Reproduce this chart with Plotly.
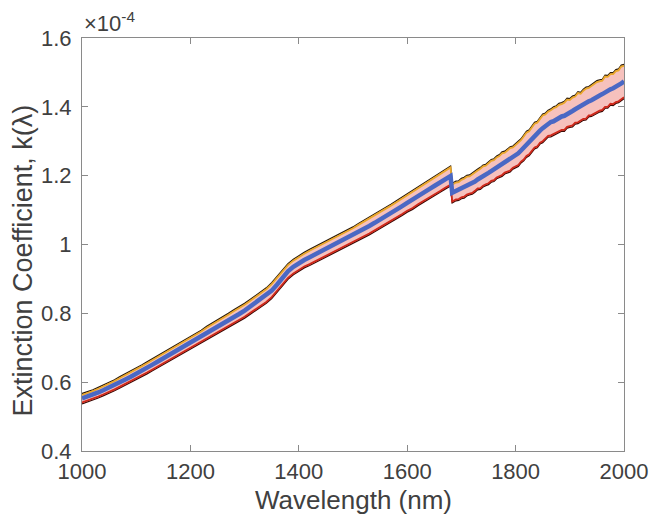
import plotly.graph_objects as go

# Wavelength grid (nm)
wl_a = [1000, 1010, 1020, 1030, 1040, 1050, 1060, 1070, 1080, 1090,
        1100, 1110, 1120, 1130, 1140, 1150, 1160, 1170, 1180, 1190,
        1200, 1210, 1220, 1230, 1240, 1250, 1260, 1270, 1280, 1290,
        1300, 1310, 1320, 1330, 1340, 1350, 1360, 1370, 1380, 1390,
        1400, 1410, 1420, 1430, 1440, 1450, 1460, 1470, 1480, 1490,
        1500, 1510, 1520, 1530, 1540, 1550, 1560, 1570, 1580, 1590,
        1600, 1610, 1620, 1630, 1640, 1650, 1660, 1670, 1680]
wl_b = [1683, 1690, 1695, 1700, 1705, 1710, 1715, 1720, 1725, 1730,
        1735, 1740, 1745, 1750, 1755, 1760, 1765, 1770, 1775, 1780,
        1785, 1790, 1795, 1800, 1805, 1810, 1815, 1820, 1825, 1830,
        1835, 1840, 1845, 1850, 1855, 1860, 1865, 1870, 1875, 1880,
        1885, 1890, 1895, 1900, 1905, 1910, 1915, 1920, 1925, 1930,
        1935, 1940, 1945, 1950, 1955, 1960, 1965, 1970, 1975, 1980,
        1985, 1990, 1995, 2000]

# Mean extinction coefficient (x 1e-4)
k_mean_a = [0.553, 0.558, 0.564, 0.570, 0.577, 0.584, 0.592, 0.600, 0.608, 0.616,
            0.624, 0.633, 0.642, 0.651, 0.660, 0.669, 0.678, 0.687, 0.696, 0.705,
            0.714, 0.723, 0.732, 0.742, 0.751, 0.760, 0.770, 0.779, 0.789, 0.798,
            0.808, 0.819, 0.830, 0.841, 0.852, 0.866, 0.884, 0.905, 0.922, 0.935,
            0.946, 0.955, 0.963, 0.971, 0.979, 0.987, 0.995, 1.003, 1.011, 1.019,
            1.027, 1.036, 1.045, 1.054, 1.063, 1.072, 1.082, 1.091, 1.101, 1.111,
            1.121, 1.130, 1.140, 1.150, 1.160, 1.170, 1.180, 1.189, 1.199]
k_mean_b = [1.150, 1.155, 1.158, 1.162, 1.166, 1.170, 1.174, 1.178, 1.183, 1.189,
            1.193, 1.198, 1.203, 1.208, 1.213, 1.218, 1.224, 1.229, 1.234, 1.238,
            1.243, 1.248, 1.253, 1.258, 1.265, 1.273, 1.282, 1.290, 1.298, 1.306,
            1.315, 1.322, 1.331, 1.338, 1.345, 1.350, 1.356, 1.358, 1.364, 1.366,
            1.372, 1.374, 1.380, 1.384, 1.388, 1.393, 1.398, 1.400, 1.407, 1.410,
            1.416, 1.419, 1.425, 1.428, 1.433, 1.437, 1.443, 1.445, 1.451, 1.454,
            1.458, 1.463, 1.468, 1.474]

# Upper / lower spread of the band (x 1e-4)
up_a = [0.014, 0.014, 0.014, 0.015, 0.015, 0.015, 0.015, 0.016, 0.016, 0.016,
        0.016, 0.017, 0.017, 0.017, 0.017, 0.018, 0.018, 0.018, 0.018, 0.019,
        0.019, 0.019, 0.019, 0.020, 0.020, 0.020, 0.020, 0.021, 0.021, 0.021,
        0.021, 0.021, 0.022, 0.022, 0.022, 0.023, 0.024, 0.023, 0.022, 0.022,
        0.022, 0.022, 0.023, 0.023, 0.023, 0.023, 0.024, 0.024, 0.024, 0.024,
        0.024, 0.025, 0.025, 0.025, 0.025, 0.025, 0.026, 0.026, 0.026, 0.026,
        0.026, 0.027, 0.026, 0.027, 0.027, 0.028, 0.027, 0.028, 0.029]
up_b = [0.028, 0.029, 0.027, 0.030, 0.029, 0.031, 0.028, 0.030, 0.032, 0.030,
        0.031, 0.033, 0.030, 0.032, 0.034, 0.031, 0.033, 0.032, 0.035, 0.033,
        0.034, 0.036, 0.033, 0.035, 0.037, 0.034, 0.036, 0.039, 0.035, 0.037,
        0.040, 0.036, 0.038, 0.041, 0.037, 0.040, 0.038, 0.042, 0.039, 0.044,
        0.040, 0.042, 0.045, 0.040, 0.043, 0.041, 0.046, 0.042, 0.044, 0.047,
        0.043, 0.046, 0.044, 0.048, 0.045, 0.043, 0.049, 0.046, 0.048, 0.045,
        0.050, 0.047, 0.053, 0.049]
lo_a = [0.016, 0.016, 0.016, 0.016, 0.016, 0.017, 0.017, 0.017, 0.017, 0.017,
        0.018, 0.018, 0.018, 0.018, 0.018, 0.019, 0.019, 0.019, 0.019, 0.019,
        0.020, 0.020, 0.020, 0.020, 0.021, 0.021, 0.021, 0.021, 0.021, 0.022,
        0.022, 0.022, 0.022, 0.023, 0.023, 0.023, 0.023, 0.024, 0.023, 0.023,
        0.023, 0.023, 0.024, 0.024, 0.024, 0.024, 0.024, 0.025, 0.025, 0.025,
        0.025, 0.025, 0.026, 0.026, 0.026, 0.026, 0.026, 0.027, 0.027, 0.027,
        0.027, 0.028, 0.027, 0.028, 0.028, 0.028, 0.029, 0.028, 0.029]
lo_b = [0.029, 0.028, 0.030, 0.029, 0.031, 0.029, 0.030, 0.032, 0.031, 0.030,
        0.033, 0.031, 0.032, 0.034, 0.032, 0.035, 0.033, 0.034, 0.036, 0.033,
        0.035, 0.037, 0.034, 0.036, 0.038, 0.036, 0.039, 0.037, 0.040, 0.038,
        0.037, 0.041, 0.039, 0.042, 0.040, 0.038, 0.043, 0.041, 0.044, 0.040,
        0.043, 0.045, 0.042, 0.044, 0.046, 0.043, 0.047, 0.044, 0.046, 0.048,
        0.045, 0.047, 0.049, 0.046, 0.048, 0.050, 0.047, 0.049, 0.046, 0.050,
        0.048, 0.051, 0.049, 0.050]

x_ticks = [1000, 1200, 1400, 1600, 1800, 2000]
y_ticks = [0.4, 0.6, 0.8, 1.0, 1.2, 1.4, 1.6]
y_ticktext = ["0.4", "0.6", "0.8", "1", "1.2", "1.4", "1.6"]

wl = wl_a + wl_b
k_mean = k_mean_a + k_mean_b
upper = [m + u for m, u in zip(k_mean, up_a + up_b)]
lower = [m - d for m, d in zip(k_mean, lo_a + lo_b)]

EDGE_SHIFT = 0.004  # visual offset of the coloured edge inside its dark outline

fig = go.Figure()
# pink band
fig.add_trace(go.Scatter(x=wl, y=lower, mode="lines", line=dict(width=0),
                         showlegend=False, hoverinfo="skip"))
fig.add_trace(go.Scatter(x=wl, y=upper, mode="lines", line=dict(width=0),
                         fill="tonexty", fillcolor="#f6c1bd",
                         showlegend=False, hoverinfo="skip"))
# upper edge: dark outline + orange
fig.add_trace(go.Scatter(x=wl, y=upper, mode="lines",
                         line=dict(color="#2a1a0a", width=1.3), showlegend=False))
fig.add_trace(go.Scatter(x=wl, y=[v - EDGE_SHIFT for v in upper], mode="lines",
                         line=dict(color="#eba82a", width=1.8), showlegend=False))
# lower edge: dark outline + red
fig.add_trace(go.Scatter(x=wl, y=lower, mode="lines",
                         line=dict(color="#3a0a05", width=1.3), showlegend=False))
fig.add_trace(go.Scatter(x=wl, y=[v + EDGE_SHIFT for v in lower], mode="lines",
                         line=dict(color="#d0281a", width=1.8), showlegend=False))
# mean
fig.add_trace(go.Scatter(x=wl, y=k_mean, mode="lines",
                         line=dict(color="#4a68c4", width=4.5), showlegend=False))

axis_col = "#8a8a8a"
text_col = "#404040"
font_family = "Liberation Sans, Arial, sans-serif"

fig.update_layout(
    width=650, height=524,
    margin=dict(l=82, r=26, t=38, b=73),
    paper_bgcolor="white", plot_bgcolor="white",
    font=dict(family=font_family, color=text_col),
    xaxis=dict(range=[1000, 2000], tickvals=x_ticks, ticks="inside", ticklen=6,
               tickcolor=axis_col, showline=True, linecolor=axis_col, linewidth=1,
               mirror="ticks", showgrid=False, zeroline=False, automargin=False,
               ticklabelstandoff=1,
               tickfont=dict(size=22, color=text_col)),
    yaxis=dict(range=[0.4, 1.6], tickvals=y_ticks, ticktext=y_ticktext,
               ticks="inside", ticklen=6, tickcolor=axis_col, showline=True,
               linecolor=axis_col, linewidth=1, mirror="ticks", showgrid=False,
               zeroline=False, automargin=False, ticklabelstandoff=5,
               tickfont=dict(size=22, color=text_col)),
    annotations=[
        dict(text="\u00d710<sup>-4</sup>", xref="paper", yref="paper",
             x=0, y=1, xanchor="left", yanchor="bottom", showarrow=False,
             font=dict(size=22, color=text_col)),
        dict(text="Wavelength (nm)", xref="paper", yref="paper",
             x=0.5, y=-0.1186, xanchor="center", yanchor="middle", showarrow=False,
             font=dict(size=26, color=text_col)),
        dict(text="Extinction Coefficient, k(\u03bb)", xref="paper", yref="paper",
             x=-0.108, y=0.4625, xanchor="center", yanchor="middle", showarrow=False,
             textangle=-90, font=dict(size=27, color=text_col)),
    ],
)

fig.write_html("out.html", config={"displayModeBar": False},
               post_script="document.body.style.margin='0';document.body.style.overflow='hidden';")
